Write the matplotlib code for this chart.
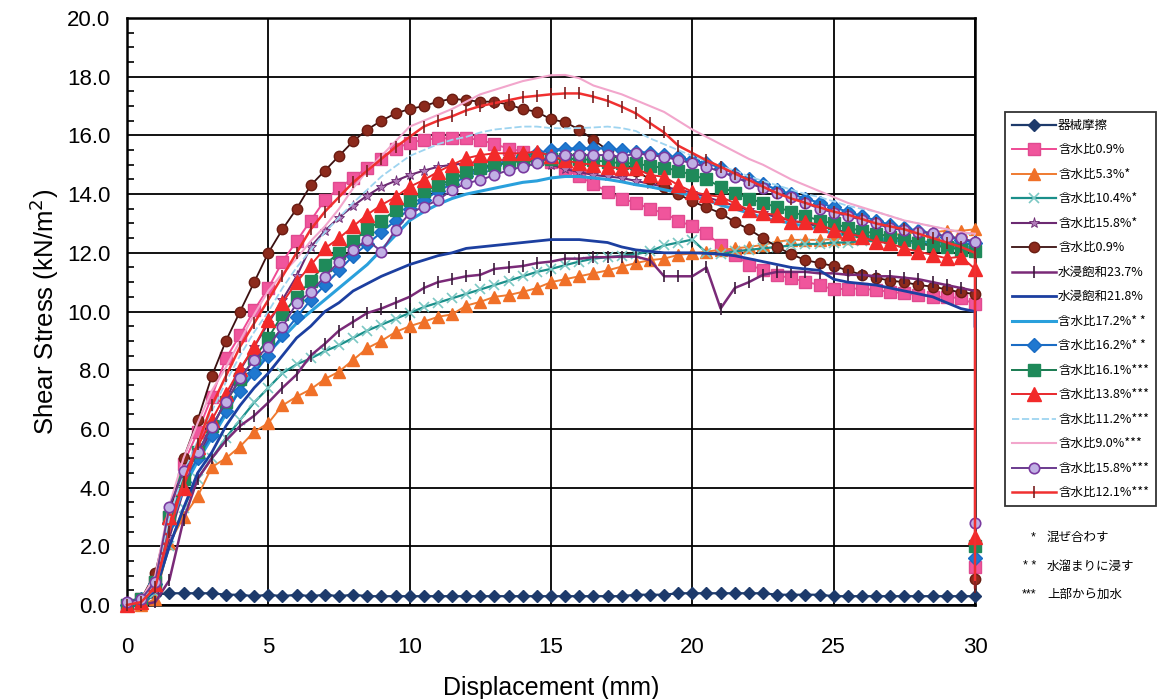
import matplotlib
matplotlib.use("Agg")
import matplotlib.pyplot as plt
from matplotlib.ticker import MultipleLocator, FormatStrFormatter

# Displacement sampling grid (mm)
displacement = [0.0, 0.5, 1.0, 1.5, 2.0, 2.5, 3.0, 3.5, 4.0, 4.5,
                5.0, 5.5, 6.0, 6.5, 7.0, 7.5, 8.0, 8.5, 9.0, 9.5,
                10.0, 10.5, 11.0, 11.5, 12.0, 12.5, 13.0, 13.5, 14.0, 14.5,
                15.0, 15.5, 16.0, 16.5, 17.0, 17.5, 18.0, 18.5, 19.0, 19.5,
                20.0, 20.5, 21.0, 21.5, 22.0, 22.5, 23.0, 23.5, 24.0, 24.5,
                25.0, 25.5, 26.0, 26.5, 27.0, 27.5, 28.0, 28.5, 29.0, 29.5, 30.0]

# Shear stress (kN/m2) for each test
friction = [0.0, 0.05, 0.35, 0.4, 0.4, 0.4, 0.4, 0.35, 0.35, 0.3,
            0.35, 0.3, 0.35, 0.3, 0.35, 0.3, 0.35, 0.3, 0.3, 0.3,
            0.3, 0.3, 0.3, 0.3, 0.3, 0.3, 0.3, 0.3, 0.3, 0.3,
            0.3, 0.3, 0.3, 0.3, 0.3, 0.3, 0.35, 0.35, 0.35, 0.4,
            0.4, 0.4, 0.4, 0.4, 0.4, 0.4, 0.35, 0.35, 0.35, 0.35,
            0.3, 0.3, 0.3, 0.3, 0.3, 0.3, 0.3, 0.3, 0.3, 0.3, 0.3]
w09_a = [0.0, 0.2, 0.8, 3.0, 4.8, 5.9, 7.1, 8.4, 9.2, 10.05,
         10.8, 11.7, 12.4, 13.1, 13.8, 14.2, 14.55, 14.9, 15.2, 15.55,
         15.75, 15.85, 15.9, 15.9, 15.9, 15.85, 15.7, 15.55, 15.45, 15.27,
         15.1, 14.85, 14.6, 14.35, 14.08, 13.85, 13.7, 13.5, 13.35, 13.1,
         12.9, 12.66, 12.27, 11.93, 11.6, 11.41, 11.24, 11.13, 11.02, 10.9,
         10.75, 10.78, 10.78, 10.73, 10.67, 10.62, 10.56, 10.5, 10.5, 10.45, 10.25]
w53 = [0.0, 0.0, 0.2, 2.1, 3.0, 3.7, 4.7, 5.0, 5.4, 5.9,
       6.2, 6.8, 7.1, 7.35, 7.7, 7.95, 8.35, 8.75, 9.0, 9.3,
       9.5, 9.65, 9.82, 9.9, 10.2, 10.33, 10.5, 10.56, 10.67, 10.8,
       11.0, 11.1, 11.2, 11.3, 11.4, 11.53, 11.65, 11.75, 11.8, 11.93,
       11.98, 12.04, 12.1, 12.15, 12.2, 12.27, 12.38, 12.44, 12.44, 12.44,
       12.46, 12.5, 12.55, 12.6, 12.6, 12.65, 12.7, 12.7, 12.75, 12.75, 12.8]
w104 = [0.0, 0.05, 0.4, 2.0, 3.3, 4.3, 5.0, 5.7, 6.3, 6.9,
        7.4, 7.9, 8.2, 8.4, 8.65, 8.85, 9.1, 9.35, 9.55, 9.75,
        9.95, 10.15, 10.3, 10.45, 10.6, 10.75, 10.9, 11.05, 11.2, 11.35,
        11.45, 11.58, 11.7, 11.8, 11.85, 11.9, 11.95, 12.05, 12.25, 12.35,
        12.45, 12.0, 11.95, 12.05, 12.1, 12.15, 12.2, 12.25, 12.3, 12.3,
        12.35, 12.35, 12.4, 12.4, 12.4, 12.4, 12.4, 12.35, 12.35, 12.3, 12.3]
w158_a = [0.0, 0.1, 0.5, 2.3, 3.9, 5.0, 6.0, 7.0, 8.0, 8.8,
          9.6, 10.4, 11.2, 12.2, 12.75, 13.2, 13.6, 13.95, 14.25, 14.45,
          14.65, 14.8, 14.93, 15.0, 15.05, 15.1, 15.15, 15.15, 15.15, 15.1,
          15.0, 14.85, 14.75, 14.65, 14.6, 14.55, 14.45, 14.35, 14.25, 14.15,
          14.05, 13.9, 13.75, 13.6, 13.45, 13.35, 13.2, 13.1, 13.0, 12.9,
          12.8, 12.7, 12.6, 12.5, 12.45, 12.4, 12.3, 12.25, 12.2, 12.15, 12.1]
w09_b = [0.0, 0.2, 1.1, 3.1, 5.0, 6.3, 7.8, 9.0, 10.0, 11.0,
         12.0, 12.8, 13.5, 14.3, 14.8, 15.3, 15.8, 16.2, 16.5, 16.75,
         16.9, 17.0, 17.15, 17.25, 17.2, 17.15, 17.15, 17.05, 16.9, 16.8,
         16.55, 16.45, 16.2, 15.85, 15.5, 15.1, 14.8, 14.5, 14.25, 14.0,
         13.75, 13.55, 13.35, 13.05, 12.8, 12.5, 12.2, 11.95, 11.75, 11.65,
         11.55, 11.4, 11.25, 11.15, 11.05, 11.0, 10.9, 10.85, 10.75, 10.65, 10.6]
sat237 = [0.0, 0.0, 0.1, 0.85, 2.9, 4.3, 5.0, 5.6, 6.1, 6.45,
          6.9, 7.4, 7.85, 8.5, 8.9, 9.35, 9.65, 9.95, 10.1, 10.3,
          10.5, 10.8, 11.0, 11.1, 11.2, 11.25, 11.45, 11.5, 11.55, 11.65,
          11.7, 11.8, 11.8, 11.85, 11.85, 11.87, 11.87, 11.75, 11.2, 11.2,
          11.2, 11.5, 10.1, 10.8, 11.0, 11.25, 11.35, 11.35, 11.35, 11.3,
          11.3, 11.25, 11.25, 11.2, 11.2, 11.15, 11.1, 11.0, 10.9, 10.8, 10.7]
sat218 = [0.0, 0.1, 0.5, 2.0, 3.3, 4.5, 5.2, 6.1, 6.8, 7.4,
          7.9, 8.5, 9.1, 9.5, 10.0, 10.3, 10.7, 10.95, 11.2, 11.4,
          11.6, 11.75, 11.9, 12.0, 12.15, 12.2, 12.25, 12.3, 12.35, 12.4,
          12.45, 12.45, 12.45, 12.4, 12.35, 12.2, 12.1, 12.05, 12.0, 12.0,
          12.0, 11.98, 11.95, 11.9, 11.8, 11.7, 11.6, 11.5, 11.45, 11.4,
          11.1, 11.0, 10.95, 10.9, 10.8, 10.7, 10.6, 10.5, 10.3, 10.1, 10.0]
w172 = [0.0, 0.1, 0.6, 2.6, 4.0, 4.9, 5.7, 6.5, 7.4, 8.0,
        8.6, 9.1, 9.6, 10.0, 10.4, 10.8, 11.2, 11.6, 12.1, 12.6,
        13.1, 13.4, 13.65, 13.85, 14.0, 14.1, 14.2, 14.3, 14.4, 14.45,
        14.55, 14.6, 14.6, 14.55, 14.5, 14.42, 14.32, 14.25, 14.15, 14.05,
        13.95, 13.8, 13.62, 13.5, 13.35, 13.2, 13.1, 13.0, 12.9, 12.8,
        12.65, 12.6, 12.55, 12.5, 12.45, 12.4, 12.35, 12.3, 12.25, 12.2, 12.2]
w162 = [0.0, 0.2, 0.7, 2.8, 4.2, 5.0, 5.8, 6.6, 7.3, 7.9,
        8.5, 9.2, 9.8, 10.4, 10.9, 11.4, 11.9, 12.3, 12.7, 13.1,
        13.5, 13.8, 14.1, 14.35, 14.6, 14.8, 15.0, 15.15, 15.3, 15.4,
        15.5, 15.55, 15.56, 15.56, 15.56, 15.5, 15.45, 15.4, 15.33, 15.25,
        15.15, 15.05, 14.9, 14.7, 14.5, 14.35, 14.15, 14.0, 13.85, 13.7,
        13.55, 13.4, 13.25, 13.1, 12.95, 12.85, 12.75, 12.65, 12.55, 12.45, 12.35]
w161 = [0.0, 0.2, 0.8, 3.0, 4.3, 5.2, 6.1, 6.9, 7.7, 8.4,
        9.1, 9.9, 10.5, 11.05, 11.6, 12.0, 12.4, 12.8, 13.1, 13.45,
        13.8, 14.1, 14.3, 14.5, 14.75, 14.9, 15.0, 15.05, 15.15, 15.2,
        15.2, 15.2, 15.2, 15.15, 15.1, 15.05, 15.05, 14.95, 14.9, 14.8,
        14.65, 14.5, 14.25, 14.05, 13.85, 13.7, 13.55, 13.4, 13.25, 13.1,
        13.0, 12.85, 12.75, 12.65, 12.55, 12.45, 12.35, 12.25, 12.2, 12.1, 12.05]
w138 = [0.0, 0.1, 0.7, 3.0, 4.0, 5.4, 6.3, 7.2, 8.05, 8.8,
        9.7, 10.3, 11.0, 11.58, 12.15, 12.5, 12.9, 13.3, 13.63, 13.9,
        14.25, 14.48, 14.76, 15.0, 15.22, 15.33, 15.39, 15.39, 15.39, 15.45,
        15.3, 15.15, 15.05, 15.0, 14.93, 14.88, 14.88, 14.65, 14.59, 14.31,
        14.08, 13.97, 13.91, 13.69, 13.46, 13.35, 13.29, 13.06, 13.06, 12.95,
        12.78, 12.66, 12.55, 12.38, 12.32, 12.15, 12.04, 11.93, 11.81, 11.87, 11.45]
w112 = [0.0, 0.1, 0.8, 3.0, 4.5, 5.6, 6.6, 7.6, 8.5, 9.3,
        10.0, 10.8, 11.5, 12.1, 12.7, 13.2, 13.7, 14.15, 14.6, 14.95,
        15.3, 15.5, 15.7, 15.85, 15.95, 16.1, 16.2, 16.25, 16.3, 16.3,
        16.25, 16.24, 16.25, 16.27, 16.3, 16.25, 16.15, 15.9, 15.7, 15.5,
        15.3, 15.1, 14.95, 14.8, 14.6, 14.45, 14.3, 14.15, 14.0, 13.9,
        13.75, 13.6, 13.5, 13.4, 13.25, 13.1, 13.0, 12.9, 12.8, 12.7, 12.6]
w90 = [0.0, 0.2, 1.0, 3.4, 5.0, 6.2, 7.3, 8.1, 9.0, 9.9,
       10.7, 11.3, 11.8, 12.4, 12.9, 13.5, 14.2, 14.8, 15.3, 15.8,
       16.3, 16.5, 16.7, 16.9, 17.15, 17.4, 17.55, 17.7, 17.85, 17.95,
       18.05, 18.06, 17.95, 17.7, 17.55, 17.4, 17.2, 17.0, 16.8, 16.5,
       16.2, 15.95, 15.7, 15.45, 15.2, 15.0, 14.75, 14.5, 14.3, 14.1,
       13.9, 13.7, 13.55, 13.4, 13.25, 13.1, 13.0, 12.9, 12.8, 12.7, 12.65]
w158_c = [0.1, 0.2, 0.8, 3.35, 4.55, 5.2, 6.08, 6.93, 7.72, 8.35,
          8.8, 9.48, 10.28, 10.67, 11.19, 11.7, 12.1, 12.44, 12.04, 12.78,
          13.35, 13.57, 13.8, 14.14, 14.37, 14.48, 14.65, 14.82, 14.93, 15.05,
          15.27, 15.33, 15.33, 15.33, 15.33, 15.27, 15.39, 15.33, 15.27, 15.16,
          15.05, 14.93, 14.76, 14.59, 14.37, 14.2, 14.03, 13.9, 13.7, 13.5,
          13.37, 13.25, 13.12, 13.0, 12.83, 12.78, 12.72, 12.66, 12.55, 12.49, 12.38]
w121 = [0.0, 0.1, 0.6, 2.5, 4.2, 5.5, 6.8, 7.8, 8.8, 9.6,
        10.4, 11.2, 12.0, 12.8, 13.4, 13.9, 14.4, 14.8, 15.2, 15.6,
        15.95, 16.3, 16.5, 16.65, 16.85, 17.0, 17.1, 17.2, 17.3, 17.35,
        17.4, 17.43, 17.43, 17.32, 17.18, 16.98, 16.75, 16.42, 16.1, 15.65,
        15.4, 15.15, 14.93, 14.7, 14.48, 14.25, 14.03, 13.85, 13.7, 13.55,
        13.4, 13.3, 13.15, 13.0, 12.9, 12.8, 12.65, 12.5, 12.35, 12.2, 12.0]

# Readings recorded after unloading at 30 mm
unload = {"w09_a": 1.3, "w09_b": 0.9, "sat218": 9.5, "w162": 1.6,
          "w161": 2.0, "w138": 2.3, "w158_c": 2.8, "w121": 0.6}

labels = ["器械摩擦", "含水比0.9%", "含水比5.3%*", "含水比10.4%*",
          "含水比15.8%*", "含水比0.9%", "水浸飽和23.7%", "水浸飽和21.8%",
          "含水比17.2%* *", "含水比16.2%* *", "含水比16.1%***",
          "含水比13.8%***", "含水比11.2%***", "含水比9.0%***",
          "含水比15.8%***", "含水比12.1%***"]

series = [
    ("friction", friction, dict(color="#1d3a6b", marker="D", ms=6.5, mfc="#1d3a6b", mec="#1d3a6b", lw=1.6)),
    ("w09_a", w09_a, dict(color="#ef4a94", marker="s", ms=8.5, mfc="#f0559c", mec="#e04a90", lw=1.4)),
    ("w53", w53, dict(color="#ef7a30", marker="^", ms=9, mfc="#f07028", mec="#f07028", lw=1.4)),
    ("w104", w104, dict(color="#1a8f8a", marker="x", ms=7, mfc="none", mec="#7cc8c4", mew=1.2, lw=1.6)),
    ("w158_a", w158_a, dict(color="#6c2a72", marker="*", ms=8, mfc="#b07ab8", mec="#6c2a72", mew=0.6, lw=1.5)),
    ("w09_b", w09_b, dict(color="#3a1010", marker="o", ms=7.5, mfc="#8c2a1c", mec="#6a1c12", lw=1.3)),
    ("sat237", sat237, dict(color="#7a2a78", marker="|", ms=8, mfc="#3a1a3a", mec="#3a1a3a", mew=1.2, lw=1.8)),
    ("sat218", sat218, dict(color="#1c3fa0", marker="", lw=2.0)),
    ("w172", w172, dict(color="#2aa0dc", marker="", lw=2.2)),
    ("w162", w162, dict(color="#1a6cc4", marker="D", ms=7, mfc="#1f78d0", mec="#1a6cc4", lw=1.5)),
    ("w161", w161, dict(color="#187a50", marker="s", ms=8.5, mfc="#1f8a5a", mec="#1f8a5a", lw=1.4)),
    ("w138", w138, dict(color="#e8282c", marker="^", ms=10, mfc="#f22a2a", mec="#f22a2a", lw=1.4)),
    ("w112", w112, dict(color="#9ed4f0", marker="", lw=1.3, ls=(0, (4, 1.5)))),
    ("w90", w90, dict(color="#f2a6cc", marker="", lw=1.5)),
    ("w158_c", w158_c, dict(color="#6a3a8e", marker="o", ms=7.5, mfc="#c0b0e4", mec="#7a3aa0", mew=1.2, lw=1.4)),
    ("w121", w121, dict(color="#f03030", marker="|", ms=8, mfc="#7a2020", mec="#7a2020", mew=1.2, lw=1.8)),
]

plt.rcParams["font.family"] = ["Liberation Sans", "Noto Sans CJK JP"]

fig = plt.figure(figsize=(11.64, 6.99), dpi=100)
ax = fig.add_axes([127 / 1164, 1 - 605 / 699, (975 - 127) / 1164, (605 - 18) / 699])

handles = []
for (key, ys, style), label in zip(series, labels):
    xs = list(displacement)
    yv = list(ys)
    if key in unload:
        xs.append(displacement[-1])
        yv.append(unload[key])
    h, = ax.plot(xs, yv, label=label, clip_on=False, zorder=3, **style)
    handles.append(h)

ax.set_xlim(0, 30)
ax.set_ylim(0, 20)
ax.xaxis.set_major_locator(MultipleLocator(5))
ax.yaxis.set_major_locator(MultipleLocator(2))
ax.yaxis.set_minor_locator(MultipleLocator(0.5))
ax.yaxis.set_major_formatter(FormatStrFormatter("%.1f"))
ax.grid(True, which="major", color="black", lw=1.3)
ax.set_axisbelow(True)
for sp in ax.spines.values():
    sp.set_linewidth(1.8)
    sp.set_color("black")
ax.tick_params(axis="y", which="both", direction="in", labelsize=16, pad=12)
ax.tick_params(axis="y", which="minor", length=5, width=1.2)
ax.tick_params(axis="y", which="major", length=0)
ax.tick_params(axis="x", which="major", length=0, labelsize=16, pad=23)
ax.set_xlabel("Displacement (mm)", fontsize=18, labelpad=13)
ax.set_ylabel("Shear Stress (kN/m$^2$)", fontsize=18.5, labelpad=4)

leg = fig.legend(handles=handles, loc="upper left",
                 bbox_to_anchor=(1005 / 1164, 1 - 112 / 699),
                 prop={"family": ["Noto Sans CJK JP"], "size": 9},
                 frameon=True, fancybox=False, edgecolor="black",
                 handlelength=3.5, handletextpad=0.2, labelspacing=0.92,
                 borderpad=0.55, borderaxespad=0)
leg.get_frame().set_linewidth(1.3)

notes = [("*", "混ぜ合わす", 537), ("* *", "水溜まりに浸す", 566), ("***", "上部から加水", 594)]
for mark, text, ypx in notes:
    fig.text(1036 / 1164, 1 - ypx / 699, mark, ha="right", va="center",
             fontsize=9, family=["Liberation Sans"])
    fig.text(1047 / 1164, 1 - ypx / 699, text, ha="left", va="center",
             fontsize=9, family=["Noto Sans CJK JP"])

fig.savefig("out.png", dpi=100, facecolor="white")
